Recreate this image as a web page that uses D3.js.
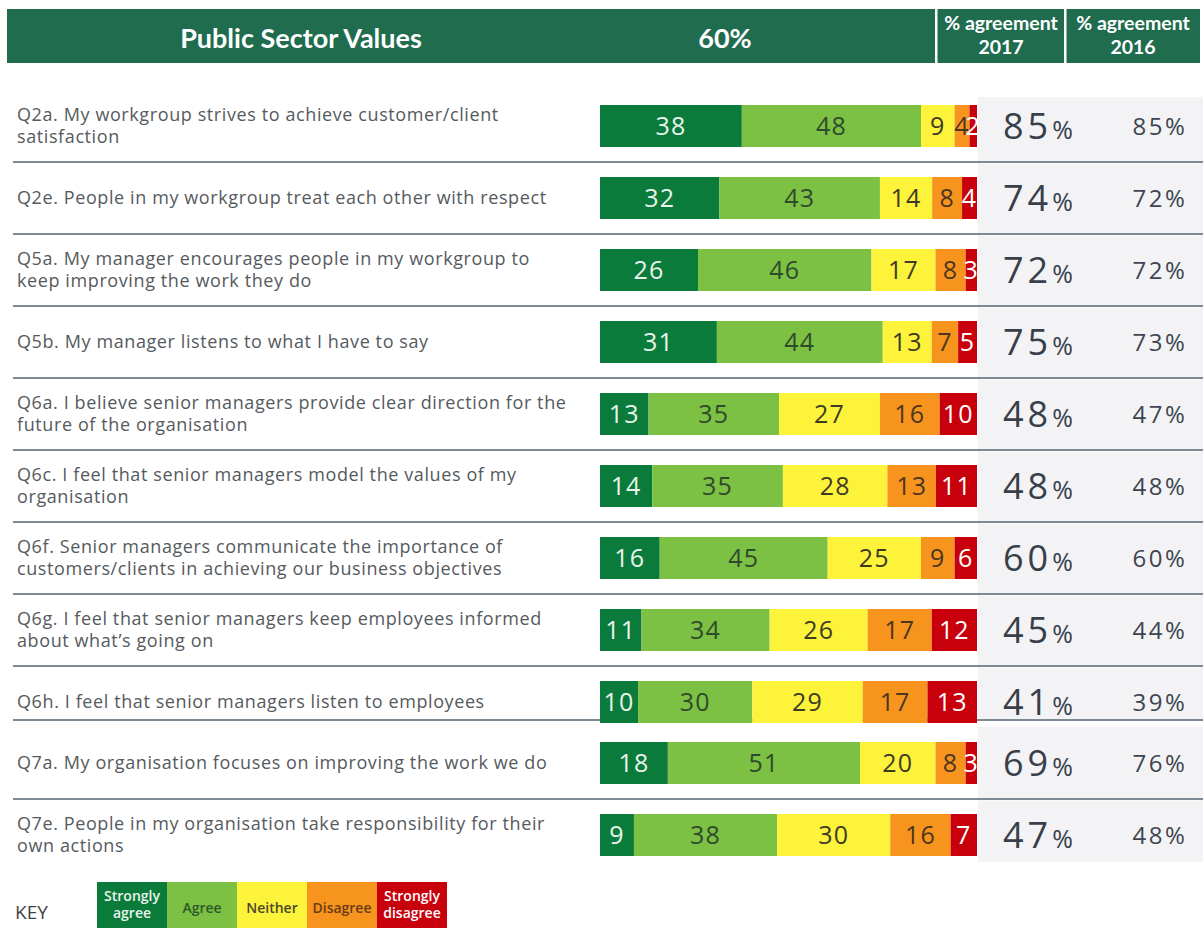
<!DOCTYPE html>
<html>
<head>
<meta charset="utf-8">
<script src="https://cdnjs.cloudflare.com/ajax/libs/d3/7.8.5/d3.min.js"></script>
<style>
  body { margin: 0; background: #fff; }
  svg { display: block; }
</style>
</head>
<body>
<div id="my_dataviz"></div>
<script>
// data
var questions = [
  ["Q2a. My workgroup strives to achieve customer/client", "satisfaction"],
  ["Q2e. People in my workgroup treat each other with respect"],
  ["Q5a. My manager encourages people in my workgroup to", "keep improving the work they do"],
  ["Q5b. My manager listens to what I have to say"],
  ["Q6a. I believe senior managers provide clear direction for the", "future of the organisation"],
  ["Q6c. I feel that senior managers model the values of my", "organisation"],
  ["Q6f. Senior managers communicate the importance of", "customers/clients in achieving our business objectives"],
  ["Q6g. I feel that senior managers keep employees informed", "about what\u2019s going on"],
  ["Q6h. I feel that senior managers listen to employees"],
  ["Q7a. My organisation focuses on improving the work we do"],
  ["Q7e. People in my organisation take responsibility for their", "own actions"]
];
var stronglyAgree    = [38, 32, 26, 31, 13, 14, 16, 11, 10, 18, 9];
var agree            = [48, 43, 46, 44, 35, 35, 45, 34, 30, 51, 38];
var neither          = [9, 14, 17, 13, 27, 28, 25, 26, 29, 20, 30];
var disagree         = [4, 8, 8, 7, 16, 13, 9, 17, 17, 8, 16];
var stronglyDisagree = [2, 4, 3, 5, 10, 11, 6, 12, 13, 3, 7];
var agreement2017    = [85, 74, 72, 75, 48, 48, 60, 45, 41, 69, 47];
var agreement2016    = [85, 72, 72, 73, 47, 48, 60, 44, 39, 76, 48];

var categories = ["Strongly agree", "Agree", "Neither", "Disagree", "Strongly disagree"];
var keyLabels = [["Strongly", "agree"], ["Agree"], ["Neither"], ["Disagree"], ["Strongly", "disagree"]];
var headerTitle = "Public Sector Values";
var headerScore = "60%";
var headerCols = [["% agreement", "2017"], ["% agreement", "2016"]];

// colours
var fillColor = d3.scaleOrdinal().domain(categories)
      .range(["#0b7b3c", "#7cc143", "#fef33b", "#f7941e", "#c8000b"]);
var textColor = d3.scaleOrdinal().domain(categories)
      .range(["#e9f4ea", "#2f4a2c", "#3d3b25", "#4c3620", "#ffffff"]);
var keyTextColor = d3.scaleOrdinal().domain(categories)
      .range(["#e9f4ea", "#2c5a2a", "#4a4a2a", "#6b3b16", "#ffffff"]);

var width = 1203, height = 928;
var svg = d3.select("#my_dataviz")
      .append("svg")
      .attr("width", width)
      .attr("height", height);

// header band
var header = svg.append("g");
header.append("rect")
      .attr("x", 7).attr("y", 9)
      .attr("width", 1193).attr("height", 54)
      .attr("fill", "#1f6c4f");
header.selectAll(".divider")
      .data([936, 1065])
      .enter().append("rect")
      .attr("x", function (d) { return d - 1; })
      .attr("y", 9).attr("width", 2.5).attr("height", 54)
      .attr("fill", "#ffffff");
header.append("text")
      .attr("x", 301).attr("y", 48)
      .attr("text-anchor", "middle")
      .style("font-family", "Lato, 'Open Sans', sans-serif")
      .style("font-weight", "bold")
      .style("font-size", "27px")
      .attr("fill", "#ffffff")
      .text(headerTitle);
header.append("text")
      .attr("x", 725).attr("y", 48)
      .attr("text-anchor", "middle")
      .style("font-family", "Lato, 'Open Sans', sans-serif")
      .style("font-weight", "bold")
      .style("font-size", "27px")
      .attr("fill", "#ffffff")
      .text(headerScore);
header.selectAll(".colhead")
      .data(headerCols)
      .enter().append("text")
      .attr("x", function (d, i) { return [1001, 1133][i]; })
      .attr("y", 30)
      .attr("text-anchor", "middle")
      .style("font-family", "Lato, 'Open Sans', sans-serif")
      .style("font-weight", "bold")
      .style("font-size", "19.5px")
      .attr("fill", "#ffffff")
      .selectAll("tspan")
      .data(function (d) { return d; })
      .enter().append("tspan")
      .attr("x", function () { return d3.select(this.parentNode).attr("x"); })
      .attr("dy", function (d, i) { return i === 0 ? 0 : 24; })
      .text(function (d) { return d; });

// row positions: even spacing, last two rows sit a bit higher
var rowY = d3.scalePoint()
      .domain(d3.range(questions.length))
      .range([126, 126 + 72 * (questions.length - 1)]);
function centerY(i) { return rowY(i) - (i >= 9 ? 11 : 0); }
var barH = 42, barX = 600, barW = 377;

// separators between rows
var seps = d3.range(questions.length - 1).map(function (i) {
  if (i === 8) return centerY(i) + 18;
  return (centerY(i) + centerY(i + 1)) / 2;
});

// grey panel behind the percentage columns
function panelTop(i) { return i === 0 ? centerY(i) - 29 : Math.max(seps[i - 1] + 1.5, centerY(i) - 36); }
function panelBottom(i) { return i === questions.length - 1 ? centerY(i) + 27 : seps[i] - 1; }
svg.selectAll(".panel")
      .data(questions)
      .enter().append("rect")
      .attr("x", 978)
      .attr("y", function (d, i) { return panelTop(i); })
      .attr("width", width - 978)
      .attr("height", function (d, i) { return panelBottom(i) - panelTop(i); })
      .attr("fill", "#f3f3f5");

svg.selectAll(".sep")
      .data(seps)
      .enter().append("line")
      .attr("x1", 13).attr("x2", width)
      .attr("y1", function (d) { return d; })
      .attr("y2", function (d) { return d; })
      .attr("stroke", "#7d8a93")
      .attr("stroke-width", 2);

// question labels
svg.selectAll(".question")
      .data(questions)
      .enter().append("text")
      .attr("y", function (d, i) { return centerY(i) + 6 - (d.length - 1) * 11; })
      .style("font-family", "'Open Sans', sans-serif")
      .style("font-size", "18px")
      .style("letter-spacing", "0.6px")
      .attr("fill", "#555a5e")
      .selectAll("tspan")
      .data(function (d) { return d; })
      .enter().append("tspan")
      .attr("x", 17)
      .attr("dy", function (d, i) { return i === 0 ? 0 : 22; })
      .text(function (d) { return d; });

// stacked bars, one scale per row so every bar fills the same width
var rows = questions.map(function (q, i) {
  var vals = [stronglyAgree[i], agree[i], neither[i], disagree[i], stronglyDisagree[i]];
  var total = d3.sum(vals);
  var x = d3.scaleLinear().domain([0, total]).range([barX, barX + barW]);
  var acc = 0;
  return vals.map(function (v, k) {
    var seg = { row: i, cat: categories[k], value: v, x0: x(acc), x1: x(acc + v) };
    acc += v;
    return seg;
  });
});

var barG = svg.selectAll(".bar")
      .data(rows)
      .enter().append("g");
barG.selectAll("rect")
      .data(function (d) { return d; })
      .enter().append("rect")
      .attr("x", function (d) { return d.x0; })
      .attr("y", function (d) { return centerY(d.row) - barH / 2; })
      .attr("width", function (d) { return d.x1 - d.x0; })
      .attr("height", barH)
      .attr("fill", function (d) { return fillColor(d.cat); });
barG.selectAll("text")
      .data(function (d) { return d; })
      .enter().append("text")
      .attr("x", function (d) { return (d.x0 + d.x1) / 2; })
      .attr("y", function (d) { return centerY(d.row) + 9; })
      .attr("text-anchor", "middle")
      .style("font-family", "'Open Sans', sans-serif")
      .style("font-size", "25px")
      .style("letter-spacing", "1.2px")
      .attr("fill", function (d) { return textColor(d.cat); })
      .text(function (d) { return d.value; });

// % agreement 2017 (big) and 2016
var big = svg.selectAll(".p2017")
      .data(agreement2017)
      .enter().append("text")
      .attr("x", 1003)
      .attr("y", function (d, i) { return centerY(i) + 13; })
      .style("font-family", "'Open Sans', sans-serif")
      .attr("fill", "#383f4a");
big.append("tspan")
      .style("font-size", "36px")
      .style("letter-spacing", "4px")
      .text(function (d) { return d; });
big.append("tspan")
      .style("font-size", "25px")
      .text("%");

svg.selectAll(".p2016")
      .data(agreement2016)
      .enter().append("text")
      .attr("x", 1160)
      .attr("y", function (d, i) { return centerY(i) + 9; })
      .attr("text-anchor", "middle")
      .style("font-family", "'Open Sans', sans-serif")
      .style("font-size", "24px")
      .style("letter-spacing", "2.5px")
      .attr("fill", "#3e4550")
      .text(function (d) { return d + "%"; });

// key
svg.append("text")
      .attr("x", 15).attr("y", 919)
      .style("font-family", "'Open Sans', sans-serif")
      .style("font-size", "19px")
      .attr("fill", "#3f4448")
      .text("KEY");

var keyX = d3.scaleBand().domain(categories).range([97, 447]);
svg.selectAll(".keybox")
      .data(categories)
      .enter().append("rect")
      .attr("x", function (d) { return keyX(d); })
      .attr("y", 882)
      .attr("width", keyX.bandwidth())
      .attr("height", 46)
      .attr("fill", function (d) { return fillColor(d); });
svg.selectAll(".keytext")
      .data(categories)
      .enter().append("text")
      .attr("y", function (d, i) { return keyLabels[i].length > 1 ? 901 : 913; })
      .attr("text-anchor", "middle")
      .style("font-family", "'Open Sans', sans-serif")
      .style("font-weight", "600")
      .style("font-size", "14px")
      .attr("fill", function (d) { return keyTextColor(d); })
      .selectAll("tspan")
      .data(function (d, i) { return keyLabels[i].map(function (t) { return { t: t, c: d }; }); })
      .enter().append("tspan")
      .attr("x", function (d) { return keyX(d.c) + keyX.bandwidth() / 2; })
      .attr("dy", function (d, i) { return i === 0 ? 0 : 17; })
      .text(function (d) { return d.t; });
</script>
</body>
</html>
